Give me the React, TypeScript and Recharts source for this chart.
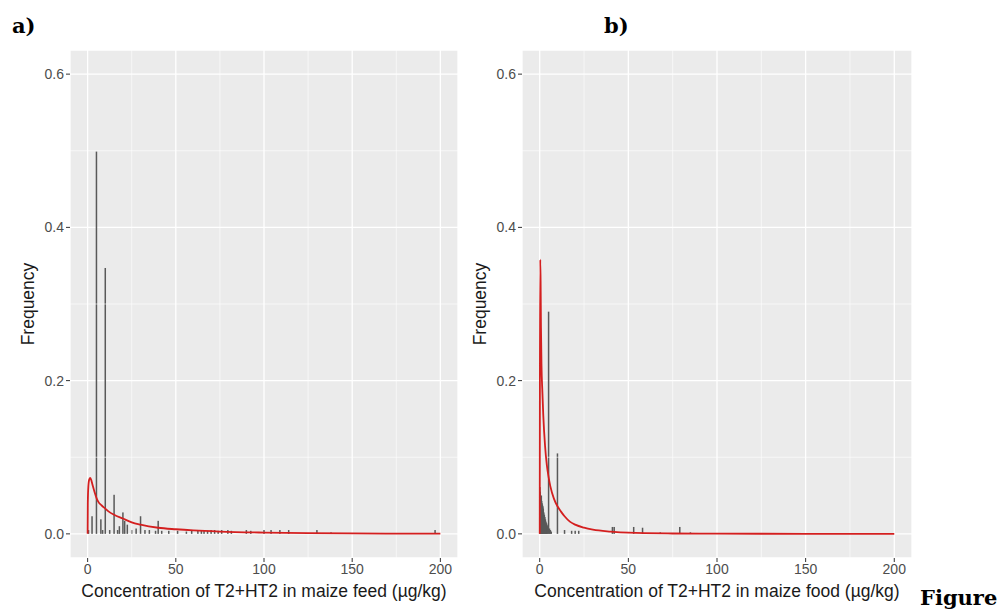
import React from "react";
import {
  Bar,
  CartesianGrid,
  ComposedChart,
  Line,
  ReferenceLine,
  XAxis,
  YAxis
} from "recharts";

const xTicks = [0, 50, 100, 150, 200];
const xMinor = [25, 75, 125, 175];
const yTicks = [0, 0.2, 0.4, 0.6];
const yMinor = [0.1, 0.3, 0.5];

// a) maize feed
const feedBinX = [0.5, 2.5, 5, 7.5, 8.5, 10, 12.5, 15, 17, 18, 20, 21, 22.5, 25, 27.5, 30, 32.5, 35, 38.5, 40, 42, 46, 51, 56, 59, 62.5, 64.5, 66, 68, 70, 72, 74, 76, 79.5, 81.5, 90, 92.5, 100, 104, 109, 114, 130, 138, 197];
const feedFreq = [0.005, 0.023, 0.499, 0.019, 0.005, 0.347, 0.005, 0.051, 0.005, 0.01, 0.028, 0.017, 0.012, 0.005, 0.007, 0.023, 0.005, 0.005, 0.004, 0.017, 0.004, 0.004, 0.004, 0.003, 0.005, 0.005, 0.005, 0.005, 0.004, 0.005, 0.005, 0.004, 0.005, 0.005, 0.004, 0.005, 0.004, 0.005, 0.005, 0.005, 0.005, 0.005, 0.002, 0.005];
const feedCurveX = [0, 0.1, 0.4, 0.9, 1.5, 2.2, 3, 4, 5, 6, 8, 10, 12, 15, 20, 25, 30, 40, 50, 60, 75, 100, 125, 150, 175, 200];
const feedCurveY = [0, 0.04, 0.062, 0.071, 0.073, 0.069, 0.062, 0.054, 0.047, 0.042, 0.037, 0.033, 0.029, 0.025, 0.02, 0.015, 0.012, 0.008, 0.006, 0.0045, 0.003, 0.0017, 0.001, 0.0006, 0.0004, 0.0003];

// b) maize food
const foodBinX = [0.1, 0.3, 0.5, 0.7, 0.9, 1.1, 1.3, 1.5, 1.8, 2, 2.3, 2.6, 2.9, 3.2, 3.5, 3.8, 4.1, 4.5, 5, 5.5, 6, 6.5, 10, 14, 18, 20, 22, 41, 42, 53, 58, 68, 79, 85, 100];
const foodFreq = [0.061, 0.055, 0.05, 0.045, 0.05, 0.043, 0.04, 0.038, 0.036, 0.033, 0.028, 0.025, 0.022, 0.019, 0.016, 0.014, 0.012, 0.01, 0.29, 0.007, 0.005, 0.003, 0.105, 0.005, 0.004, 0.004, 0.004, 0.009, 0.009, 0.009, 0.008, 0.002, 0.009, 0.002, 0.001];
const foodCurveX = [0, 0.1, 0.3, 0.5, 0.7, 1, 1.5, 2, 3, 4, 5, 6, 8, 10, 12, 14, 17, 20, 25, 30, 40, 50, 75, 100, 150, 200];
const foodCurveY = [0, 0.2, 0.358, 0.33, 0.27, 0.22, 0.185, 0.155, 0.115, 0.09, 0.074, 0.062, 0.046, 0.036, 0.029, 0.023, 0.016, 0.012, 0.008, 0.0055, 0.003, 0.0015, 0.0005, 0.0002, 0.0001, 0];

type Row = { x: number; freq?: number; dens?: number };

function buildRows(binX: number[], freq: number[], curveX: number[], curveY: number[]) {
  const rows = new Map<number, Row>();
  binX.forEach((x, i) => {
    const r = rows.get(x) ?? { x };
    r.freq = freq[i];
    rows.set(x, r);
  });
  curveX.forEach((x, i) => {
    const r = rows.get(x) ?? { x };
    r.dens = curveY[i];
    rows.set(x, r);
  });
  return [...rows.values()].sort((a, b) => a.x - b.x);
}

const feedRows = buildRows(feedBinX, feedFreq, feedCurveX, feedCurveY);
const foodRows = buildRows(foodBinX, foodFreq, foodCurveX, foodCurveY);

// thin spike centred on the bar's own x position
const BAR_W = 1.5;
function Spike(props: any) {
  const { x, y, width, height } = props;
  if (height == null || !isFinite(height) || height <= 0) return <g />;
  return <rect x={x + width / 2 - BAR_W / 2} y={y} width={BAR_W} height={height} fill="#595959" />;
}

function Panel({ rows, title, left, width }: { rows: Row[]; title: string; left: number; width: number }) {
  return (
    <div style={{ position: "absolute", left, top: 0 }}>
      <ComposedChart width={width} height={611} data={rows} margin={{ top: 50, right: 12, bottom: 0, left: 0 }}>
        <CartesianGrid fill="#EBEBEB" stroke="#FFFFFF" strokeWidth={1.3} />
        {xMinor.map((v) => (
          <ReferenceLine key={"x" + v} x={v} stroke="#FFFFFF" strokeWidth={0.6} />
        ))}
        {yMinor.map((v) => (
          <ReferenceLine key={"y" + v} y={v} stroke="#FFFFFF" strokeWidth={0.6} />
        ))}
        <XAxis
          dataKey="x"
          type="number"
          domain={[-10, 210]}
          ticks={xTicks}
          allowDataOverflow
          height={53}
          axisLine={false}
          tickSize={4}
          tickLine={{ stroke: "#333333" }}
          tick={{ fill: "#4D4D4D", fontSize: 14 }}
          label={{ value: title, position: "insideBottom", offset: 14, fill: "#1A1A1A", fontSize: 17.5 }}
        />
        <YAxis
          type="number"
          domain={[-0.0315, 0.6315]}
          ticks={yTicks}
          allowDataOverflow
          width={70}
          axisLine={false}
          tickSize={4}
          tickLine={{ stroke: "#333333" }}
          tick={{ fill: "#4D4D4D", fontSize: 14 }}
          tickFormatter={(v: number) => v.toFixed(1)}
          label={{
            value: "Frequency",
            angle: -90,
            position: "insideLeft",
            offset: 28,
            fill: "#1A1A1A",
            fontSize: 17.5,
            style: { textAnchor: "middle" }
          }}
        />
        <Bar dataKey="freq" fill="#595959" shape={<Spike />} isAnimationActive={false} />
        <Line
          dataKey="dens"
          type="monotone"
          stroke="#D41F1F"
          strokeWidth={1.8}
          dot={false}
          connectNulls
          isAnimationActive={false}
        />
      </ComposedChart>
    </div>
  );
}

const tagStyle: React.CSSProperties = {
  position: "absolute",
  fontFamily: "'DejaVu Serif', serif",
  fontWeight: "bold",
  fontSize: 21,
  lineHeight: 1,
  color: "#000"
};

export default function App() {
  return (
    <div
      style={{
        position: "absolute",
        left: 0,
        top: 0,
        width: 1000,
        height: 611,
        overflow: "hidden",
        background: "#FFFFFF",
        fontFamily: "'Liberation Sans', Arial, sans-serif"
      }}
    >
      <div style={{ ...tagStyle, left: 12, top: 15 }}>a)</div>
      <div style={{ ...tagStyle, left: 604, top: 15 }}>b)</div>
      <Panel rows={feedRows} title="Concentration of T2+HT2 in maize feed (µg/kg)" left={0} width={470} />
      <Panel rows={foodRows} title="Concentration of T2+HT2 in maize food (µg/kg)" left={452} width={472} />
      <div style={{ ...tagStyle, left: 920, top: 587 }}>Figure</div>
    </div>
  );
}
